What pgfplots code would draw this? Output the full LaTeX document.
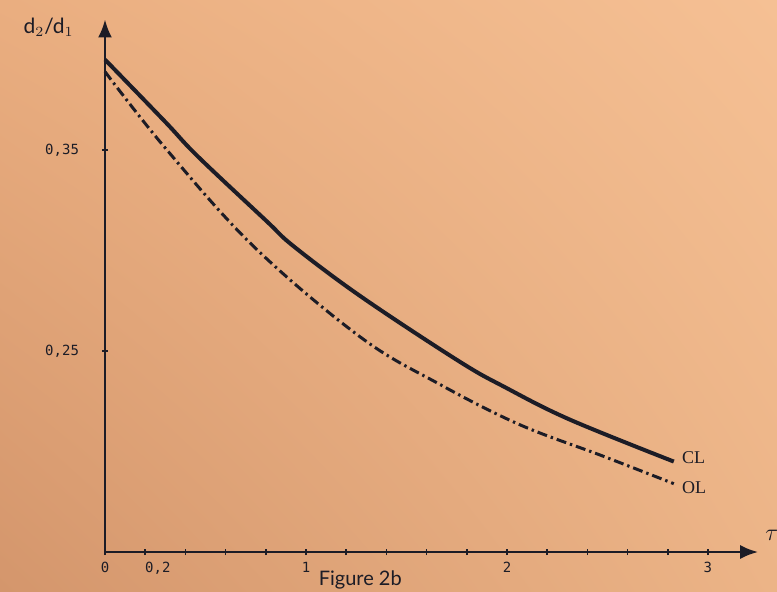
\documentclass[border=0pt]{standalone}
\usepackage{fontspec}
\setmainfont{Liberation Serif}
\newfontfamily\monof{DejaVu Sans Mono}
\newfontfamily\sansf{Lato}
\usepackage{pgfplots}
\pgfplotsset{compat=1.18}
\usetikzlibrary{arrows.meta,shadings}
\definecolor{pUL}{RGB}{234,174,128}
\definecolor{pUR}{RGB}{245,192,148}
\definecolor{pLL}{RGB}{212,150,108}
\definecolor{pLR}{RGB}{236,180,135}
\definecolor{ink}{RGB}{28,28,38}
\begin{document}
\begin{tikzpicture}
\shade[upper left=pUL, upper right=pUR, lower left=pLL, lower right=pLR] (0,0) rectangle (388.5pt,295.5pt);
\useasboundingbox (0,0) rectangle (388.5pt,295.5pt);
\begin{axis}[
  at={(52.5pt,19.5pt)}, anchor=south west,
  scale only axis, width=326.6pt, height=266.3pt,
  xmin=0, xmax=3.25, ymin=0.15, ymax=0.415,
  clip=false,
  axis lines=left,
  axis line style={ink, line width=1.3pt, -{Latex[length=9pt,width=7pt]}},
  xtick={0,0.2,0.4,0.6,0.8,1.0,1.2,1.4,1.6,1.8,2.0,2.2,2.4,2.6,2.8,3.0},
  xticklabels={0,{\rlap{0,2}},,,,1,,,,,2,,,,,3},
  ytick={0.25,0.35},
  yticklabels={{0,25},{0,35}},
  tick align=center, major tick length=3pt,
  tick style={ink, line width=0.8pt},
  tick label style={font=\monof\fontsize{7}{8}\selectfont, text=ink},
  yticklabel style={xshift=-8pt},
]
\addplot[ink, line width=2pt, smooth, tension=0.6] coordinates {
 (0,0.395) (0.3,0.364) (0.46,0.347) (0.8,0.315) (0.94,0.302)
 (1.275,0.277) (1.76,0.245) (1.99,0.232) (2.31,0.216) (2.83,0.195)};
\addplot[ink, line width=1.5pt, smooth, tension=0.6,
  dash pattern=on 5pt off 2pt on 1.2pt off 2pt] coordinates {
 (0,0.389) (0.3,0.351) (0.74,0.302) (1.27,0.257) (1.655,0.234)
 (2.06,0.2135) (2.47,0.198) (2.83,0.184)};
\node[anchor=west, font=\fontsize{9}{10}\selectfont, text=ink, inner sep=0pt] at (axis cs:2.87,0.197) {CL};
\node[anchor=west, font=\fontsize{9}{10}\selectfont, text=ink, inner sep=0pt] at (axis cs:2.87,0.182) {OL};
\node[font=\sansf\fontsize{10.5}{11}\selectfont, text=ink] at (axis cs:-0.28,0.411) {d$_2$/d$_1$};
\node[anchor=south west, font=\fontsize{13}{13}\selectfont, text=ink] at (axis cs:3.25,0.152) {$\tau$};
\node[font=\sansf\fontsize{10}{11}\selectfont, text=ink] at (axis cs:1.27,0.15) [yshift=-14pt] {Figure 2b};
\end{axis}
\end{tikzpicture}
\end{document}
